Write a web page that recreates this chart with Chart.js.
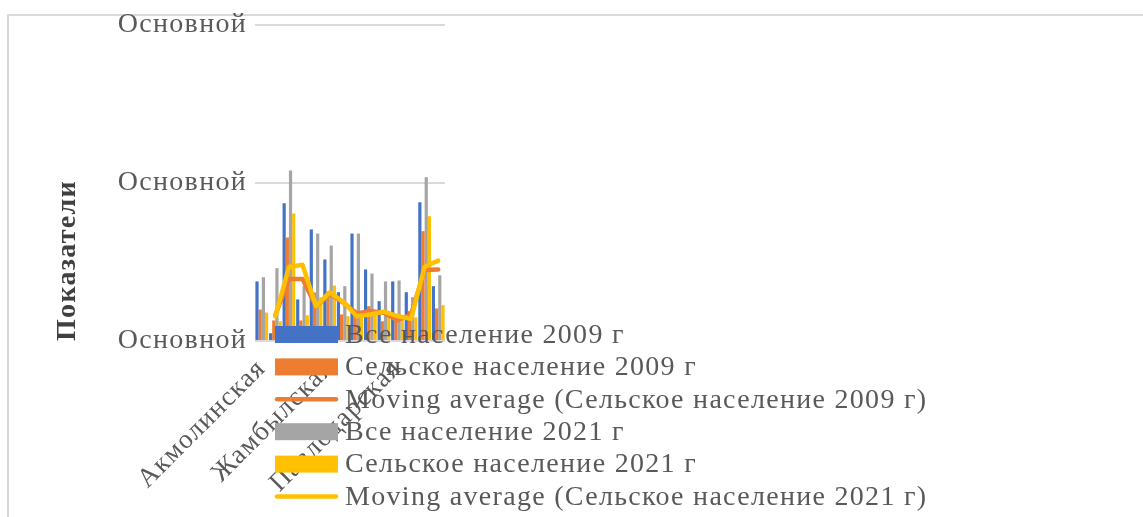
<!DOCTYPE html>
<html lang="ru">
<head>
<meta charset="utf-8">
<title>Население</title>
<script src="https://cdn.jsdelivr.net/npm/chart.js@4.4.1/dist/chart.umd.min.js"></script>
<style>
  html, body { margin: 0; padding: 0; background: #fff; }
  #wrap { position: relative; width: 1143px; height: 517px; overflow: hidden; }
  #frame {
    position: absolute; left: 7px; top: 14px; width: 1150px; height: 520px;
    border-top: 2px solid #d9d9d9; border-left: 2px solid #d9d9d9;
    box-sizing: border-box;
  }
  #chart { position: absolute; left: 0; top: 0; }
</style>
</head>
<body>
<div id="wrap">
  <div id="frame"></div>
  <canvas id="chart" width="1143" height="517"></canvas>
</div>
<script>
const regions = [
  "Акмолинская", "Актюбинская", "Алматинская", "Атырауская",
  "Восточно-Казахстанская", "Жамбылская", "Западно-Казахстанская",
  "Карагандинская", "Костанайская", "Кызылординская", "Павлодарская",
  "Северо-Казахстанская", "Южно-Казахстанская", "Мангистауская",
];
const yTickLabel = "Основной";

// values (thousands)
const total2009 = [377, 49, 872, 263, 706, 516, 309, 680, 453, 252, 377, 309, 878, 347];
const rural2009 = [199, 130, 655, 130, 307, 315, 168, 168, 220, 125, 136, 189, 695, 206];
const total2021 = [404, 461, 1079, 347, 680, 604, 347, 680, 427, 377, 383, 277, 1037, 416];
const rural2021 = [180, 125, 807, 163, 277, 351, 157, 157, 180, 189, 136, 149, 790, 227];
const movingRural2009 = [null, 165, 393, 393, 218, 300, 243, 175, 190, 178, 132, 168, 450, 452];
const movingRural2021 = [null, 155, 468, 482, 220, 308, 248, 157, 168, 186, 158, 140, 470, 509];

const BLUE = "#4472C4";
const ORANGE = "#ED7D31";
const GRAY = "#A5A5A5";
const YELLOW = "#FFC000";
const TEXT = "#595959";
const SERIF = "'Liberation Serif', 'Times New Roman', serif";
const SPACING = "1.3px";

const legendItems = [
  { text: "Все население 2009 г", color: BLUE, kind: "box" },
  { text: "Сельское население 2009 г", color: ORANGE, kind: "box" },
  { text: "Moving average (Сельское население 2009 г)", color: ORANGE, kind: "line" },
  { text: "Все население 2021 г", color: GRAY, kind: "box" },
  { text: "Сельское население 2021 г", color: YELLOW, kind: "box" },
  { text: "Moving average (Сельское население 2021 г)", color: YELLOW, kind: "line" },
];

function barSet(label, data, color) {
  return {
    label,
    data,
    backgroundColor: color,
    borderWidth: 0,
    order: 2,
    categoryPercentage: 0.94,
    barPercentage: 1.0,
  };
}

function lineSet(label, data, color, order) {
  return {
    type: "line",
    label,
    data,
    borderColor: color,
    backgroundColor: color,
    borderWidth: 4.5,
    pointRadius: 0,
    tension: 0,
    borderCapStyle: "round",
    borderJoinStyle: "round",
    spanGaps: false,
    order,
  };
}

// Excel-like wide letter spacing for all canvas text
const spacedText = {
  id: "spacedText",
  beforeUpdate(chart) { chart.ctx.letterSpacing = SPACING; },
  beforeDraw(chart) { chart.ctx.letterSpacing = SPACING; },
};

// legend sits over the plot like in the original, so draw it last
const overlayLegend = {
  id: "overlayLegend",
  afterDraw(chart) {
    const c = chart.ctx;
    const x0 = 275, boxW = 63, boxH = 17, textX = 345;
    const top = 334.5, step = 32.4;
    c.save();
    c.font = "28px " + SERIF;
    c.letterSpacing = SPACING;
    c.textBaseline = "middle";
    c.textAlign = "left";
    legendItems.forEach((item, i) => {
      const y = top + i * step;
      if (item.kind === "box") {
        c.fillStyle = item.color;
        c.fillRect(x0, y - boxH / 2, boxW, boxH);
      } else {
        c.strokeStyle = item.color;
        c.lineWidth = 4.5;
        c.lineCap = "round";
        c.beginPath();
        c.moveTo(x0 + 2, y);
        c.lineTo(x0 + boxW - 2, y);
        c.stroke();
      }
      c.fillStyle = TEXT;
      c.fillText(item.text, textX, y + 1);
    });
    c.restore();
  },
};

new Chart(document.getElementById("chart"), {
  type: "bar",
  data: {
    labels: regions,
    datasets: [
      barSet("Все население 2009 г", total2009, BLUE),
      barSet("Сельское население 2009 г", rural2009, ORANGE),
      barSet("Все население 2021 г", total2021, GRAY),
      barSet("Сельское население 2021 г", rural2021, YELLOW),
      lineSet("Moving average (Сельское население 2009 г)", movingRural2009, ORANGE, 1),
      lineSet("Moving average (Сельское население 2021 г)", movingRural2021, YELLOW, 0),
    ],
  },
  options: {
    responsive: false,
    animation: false,
    layout: { padding: { top: 25, right: 698, left: 0, bottom: 0 } },
    plugins: {
      legend: { display: false },
      tooltip: { enabled: false },
    },
    scales: {
      x: {
        grid: { display: false },
        border: { display: false },
        ticks: {
          autoSkip: false,
          maxRotation: 45,
          minRotation: 45,
          padding: 4,
          color: TEXT,
          font: { family: SERIF, size: 27 },
          callback: (value, index) => (index % 5 === 0 ? regions[index] : ""),
        },
        afterFit: (scale) => { scale.height = 176; },
      },
      y: {
        min: 0,
        max: 2000,
        border: { display: false },
        grid: { color: "#d9d9d9", lineWidth: 2, drawTicks: false },
        ticks: {
          stepSize: 1000,
          padding: 8,
          color: TEXT,
          font: { family: SERIF, size: 28 },
          callback: () => yTickLabel,
        },
        title: {
          display: true,
          text: "Показатели",
          align: "start",
          color: "#404040",
          font: { family: SERIF, size: 28, weight: "bold" },
          padding: { top: 51, bottom: 0 },
        },
        afterFit: (scale) => { scale.width = 255; },
      },
    },
  },
  plugins: [spacedText, overlayLegend],
});
</script>
</body>
</html>
